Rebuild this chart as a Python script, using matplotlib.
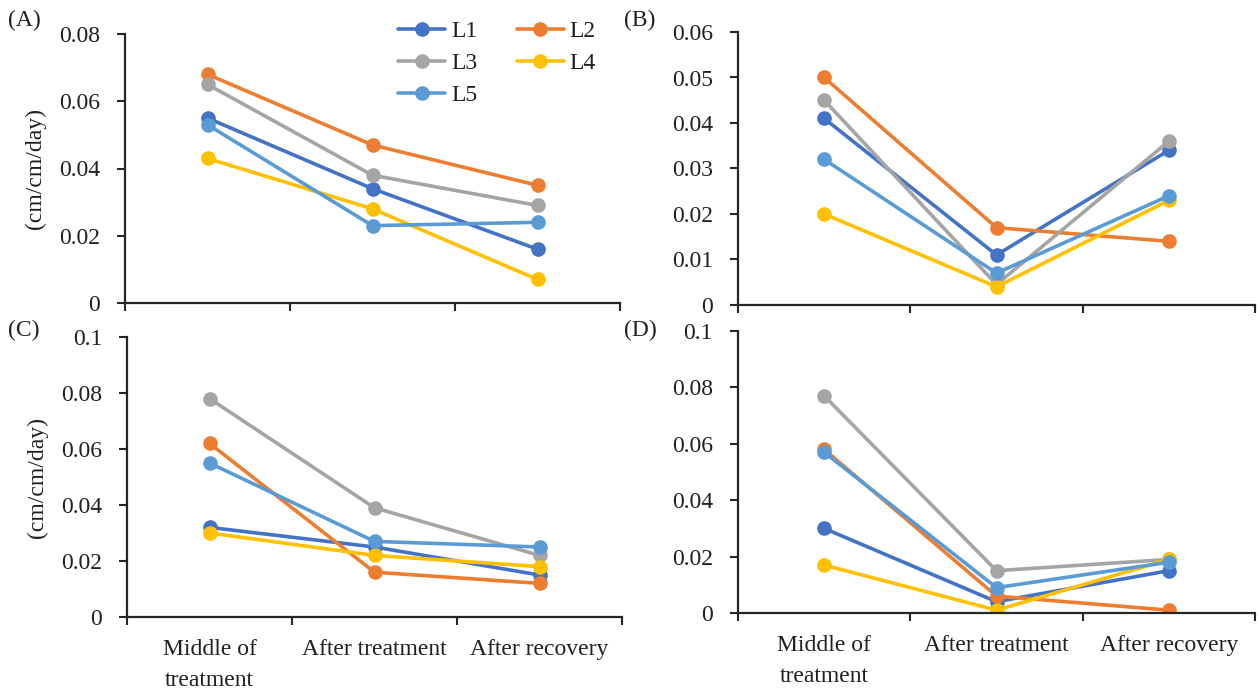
import matplotlib
matplotlib.use("Agg")
import matplotlib.pyplot as plt

plt.rcParams['font.family'] = ['Liberation Serif', 'DejaVu Serif']

categories = ["Middle of\ntreatment", "After treatment", "After recovery"]
series_names = ["L1", "L2", "L3", "L4", "L5"]
colors = ["#4472C4", "#ED7D31", "#A5A5A5", "#FFC000", "#5B9BD5"]

# Panel A
A_L1 = [0.055, 0.034, 0.016]
A_L2 = [0.068, 0.047, 0.035]
A_L3 = [0.065, 0.038, 0.029]
A_L4 = [0.043, 0.028, 0.007]
A_L5 = [0.053, 0.023, 0.024]
# Panel B
B_L1 = [0.041, 0.011, 0.034]
B_L2 = [0.050, 0.017, 0.014]
B_L3 = [0.045, 0.0045, 0.036]
B_L4 = [0.020, 0.004, 0.023]
B_L5 = [0.032, 0.007, 0.024]
# Panel C
C_L1 = [0.032, 0.025, 0.015]
C_L2 = [0.062, 0.016, 0.012]
C_L3 = [0.078, 0.039, 0.022]
C_L4 = [0.030, 0.022, 0.018]
C_L5 = [0.055, 0.027, 0.025]
# Panel D
D_L1 = [0.030, 0.004, 0.015]
D_L2 = [0.058, 0.006, 0.001]
D_L3 = [0.077, 0.015, 0.019]
D_L4 = [0.017, 0.001, 0.019]
D_L5 = [0.057, 0.009, 0.018]

A_yticks = [0, 0.02, 0.04, 0.06, 0.08]
A_yticklabels = ["0", "0.02", "0.04", "0.06", "0.08"]
B_yticks = [0, 0.01, 0.02, 0.03, 0.04, 0.05, 0.06]
B_yticklabels = ["0", "0.01", "0.02", "0.03", "0.04", "0.05", "0.06"]
CD_yticks = [0, 0.02, 0.04, 0.06, 0.08, 0.1]
CD_yticklabels = ["0", "0.02", "0.04", "0.06", "0.08", "0.1"]

panel_labels = ["(A)", "(B)", "(C)", "(D)"]
ylabel_text = "(cm/cm/day)"

W, H = 1258, 695
fig = plt.figure(figsize=(W / 100, H / 100), dpi=100)

def rect(l, r, t, b):
    return [l / W, 1 - b / H, (r - l) / W, (b - t) / H]

axA = fig.add_axes(rect(125, 620, 34, 303))
axB = fig.add_axes(rect(738, 1255, 32, 305))
axC = fig.add_axes(rect(127, 622, 337, 617))
axD = fig.add_axes(rect(738, 1255, 331, 613))

panels = [
    (axA, [A_L1, A_L2, A_L3, A_L4, A_L5], A_yticks, A_yticklabels, True, False),
    (axB, [B_L1, B_L2, B_L3, B_L4, B_L5], B_yticks, B_yticklabels, False, False),
    (axC, [C_L1, C_L2, C_L3, C_L4, C_L5], CD_yticks, CD_yticklabels, True, True),
    (axD, [D_L1, D_L2, D_L3, D_L4, D_L5], CD_yticks, CD_yticklabels, False, True),
]

text_color = "#231F20"
spine_color = "#262626"
fs = 17
xpos = [0.5, 1.5, 2.5]

for ax, data, yt, ytl, show_ylabel, show_xlabels in panels:
    for vals, c, name in zip(data, colors, series_names):
        ax.plot(xpos, vals, color=c, lw=2.6, marker='o', markersize=9.5,
                label=name, solid_capstyle='round')
    ax.set_xlim(0, 3)
    ax.set_ylim(yt[0], yt[-1])
    ax.set_yticks(yt)
    ax.set_yticklabels(ytl)
    ax.set_xticks(xpos)
    if show_xlabels:
        ax.set_xticklabels(categories, linespacing=1.6)
    else:
        ax.set_xticklabels([])
    ax.set_xticks([0, 1, 2, 3], minor=True)
    ax.tick_params(axis='x', which='major', length=0, pad=16,
                   labelsize=fs, labelcolor=text_color)
    ax.tick_params(axis='x', which='minor', length=6, width=1.5,
                   color=spine_color, direction='out')
    ax.tick_params(axis='y', length=6, width=1.5, color=spine_color,
                   pad=12, labelsize=fs, labelcolor=text_color)
    for s in ['top', 'right']:
        ax.spines[s].set_visible(False)
    for s in ['left', 'bottom']:
        ax.spines[s].set_linewidth(1.6)
        ax.spines[s].set_color(spine_color)
    ax.set_facecolor('none')
    if show_ylabel:
        ax.set_ylabel(ylabel_text, fontsize=fs, color=text_color)
        ax.yaxis.set_label_coords(-0.16, 0.5)

fig.text(8 / W, 1 - 20 / H, panel_labels[0], fontsize=fs, color=text_color, va='center', ha='left')
fig.text(624 / W, 1 - 20 / H, panel_labels[1], fontsize=fs, color=text_color, va='center', ha='left')
fig.text(8 / W, 1 - 330 / H, panel_labels[2], fontsize=fs, color=text_color, va='center', ha='left')
fig.text(624 / W, 1 - 330 / H, panel_labels[3], fontsize=fs, color=text_color, va='center', ha='left')

handles, labels = axA.get_legend_handles_labels()
order = [0, 2, 4, 1, 3]
axA.legend([handles[i] for i in order], [labels[i] for i in order], ncol=2,
           loc='upper left',
           bbox_to_anchor=(377 / W, 1 + 1 / H), bbox_transform=fig.transFigure,
           frameon=False, fontsize=fs, handlelength=2.0, handletextpad=0.25,
           columnspacing=1.65, labelspacing=0.45, labelcolor=text_color)

fig.savefig("out.png", dpi=100)
